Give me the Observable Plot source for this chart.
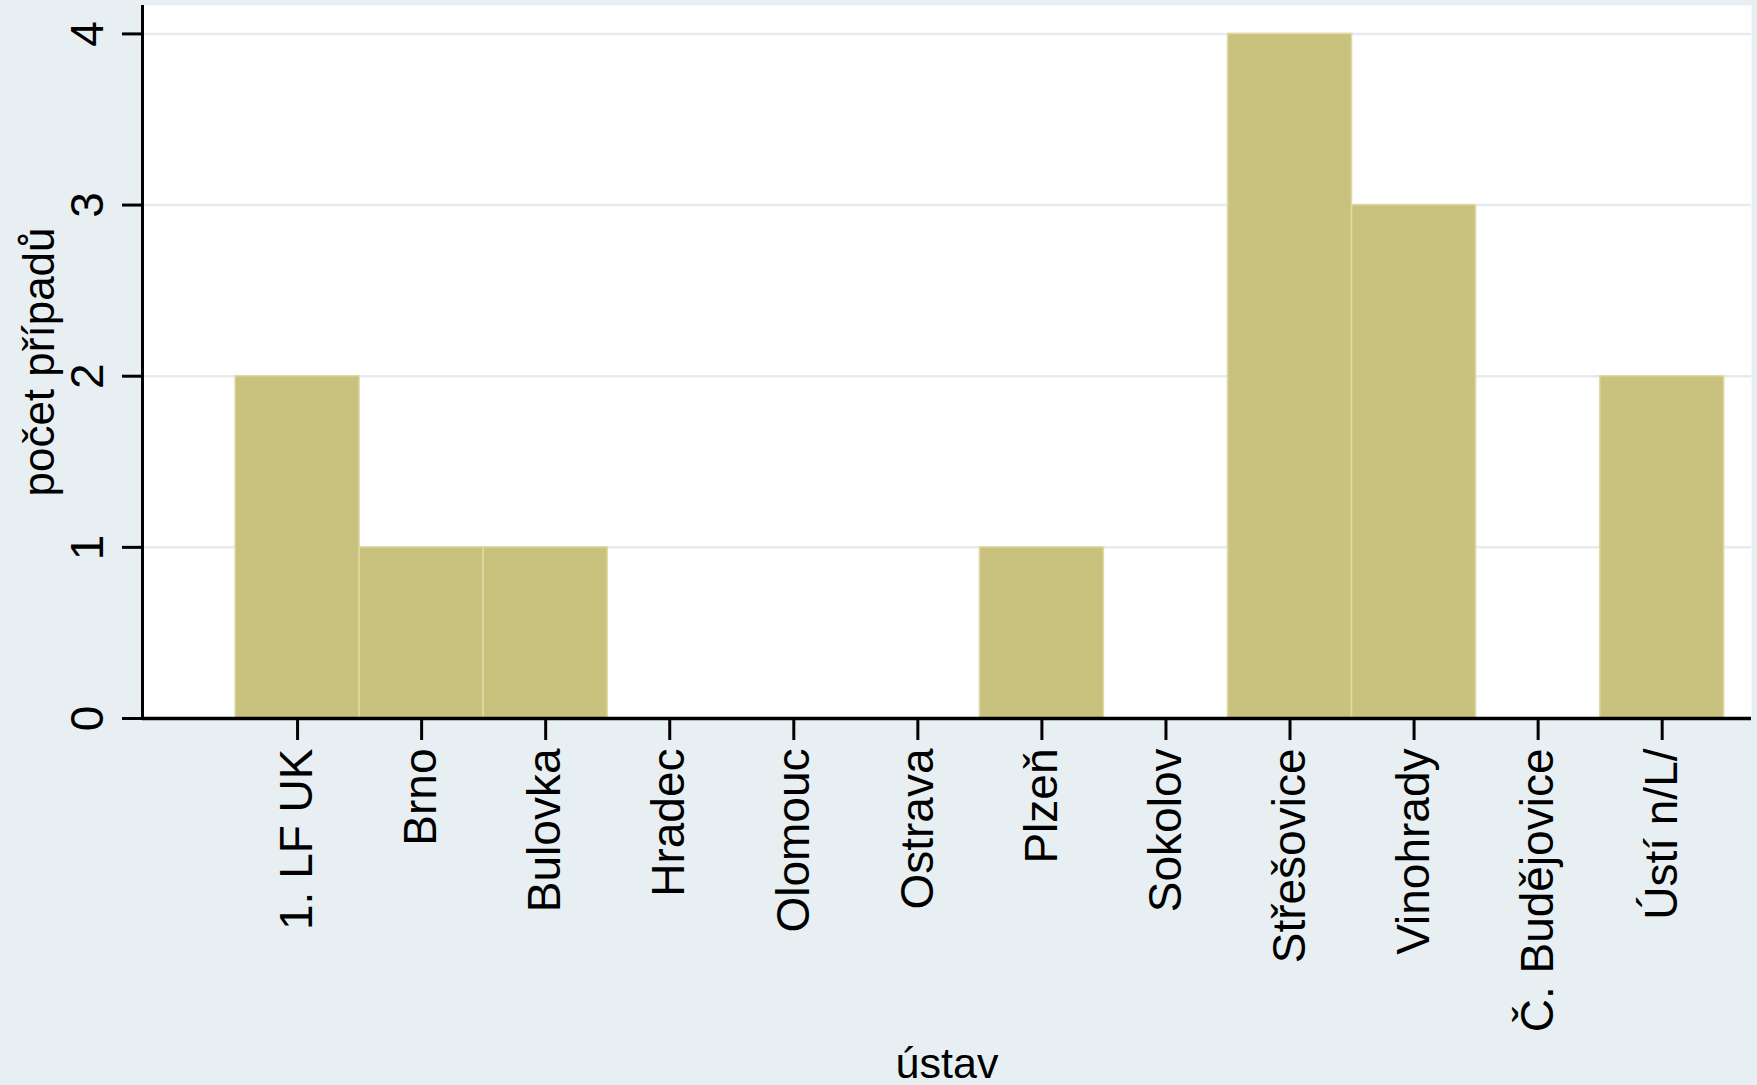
<!DOCTYPE html>
<html>
<head>
<meta charset="utf-8">
<script src="https://cdn.jsdelivr.net/npm/d3@7"></script>
<script src="https://cdn.jsdelivr.net/npm/@observablehq/plot@0.6"></script>
<style>
  html, body { margin: 0; padding: 0; background: #e8eff2; }
  #chart svg { display: block; }
</style>
</head>
<body>
<div id="chart"></div>
<script>
// Data
const categories = ["1. LF UK", "Brno", "Bulovka", "Hradec", "Olomouc", "Ostrava", "Plzeň", "Sokolov", "Střešovice", "Vinohrady", "Č. Budějovice", "Ústí n/L/"];
const counts = [2, 1, 1, 0, 0, 0, 1, 0, 4, 3, 0, 2];
const yTicks = [0, 1, 2, 3, 4];
const gridTicks = [1, 2, 3, 4];
const xTitle = "ústav";
const yTitle = "počet případů";

const idx = categories.map((_, i) => i);
const bars = categories.map((c, i) => ({i, c, n: counts[i]})).filter(d => d.n > 0);
const xDomain = [-1.25, 11.72];
const yDomain = [0, 4.166];

const font = "'Liberation Sans', Arial, Helvetica, sans-serif";

const chart = Plot.plot({
  width: 1757,
  height: 1085,
  marginLeft: 142,
  marginRight: 6,
  marginTop: 5,
  marginBottom: 367,
  style: {background: "#e8eff2", fontFamily: font, color: "black"},
  x: {type: "linear", domain: xDomain, axis: null},
  y: {domain: yDomain, axis: null},
  marks: [
    Plot.frame({fill: "white", stroke: null}),
    Plot.gridY(gridTicks, {stroke: "#e4ecef", strokeOpacity: 1, strokeWidth: 2.5}),
    Plot.rectY(bars, {
      x1: d => d.i - 0.5,
      x2: d => d.i + 0.5,
      y1: 0,
      y2: "n",
      fill: "#c9c27f",
      stroke: "#e0d9a3",
      strokeWidth: 1.5
    }),
    Plot.axisY(yTicks, {
      anchor: "left",
      tickSize: 20,
      tickPadding: 20,
      tickRotate: -90,
      fontSize: 46,
      stroke: "black",
      strokeWidth: 3,
      tickFormat: d => String(d),
      label: null
    }),
    Plot.axisX(idx, {
      anchor: "bottom",
      tickSize: 22,
      tickPadding: 8,
      tickRotate: -90,
      fontSize: 46,
      stroke: "black",
      strokeWidth: 3,
      tickFormat: i => categories[i],
      label: null
    }),
    Plot.ruleX([xDomain[0]], {stroke: "black", strokeWidth: 3}),
    Plot.ruleY([0], {stroke: "black", strokeWidth: 3.5}),
    Plot.text([yTitle], {
      frameAnchor: "left",
      dx: -89,
      rotate: -90,
      textAnchor: "middle",
      lineAnchor: "bottom",
      fontSize: 44,
      fill: "black",
      style: "letter-spacing: 1.5px"
    }),
    Plot.text([xTitle], {
      frameAnchor: "bottom",
      dy: 359,
      textAnchor: "middle",
      lineAnchor: "bottom",
      fontSize: 43,
      fill: "black"
    })
  ]
});

document.getElementById("chart").appendChild(chart);
</script>
</body>
</html>
